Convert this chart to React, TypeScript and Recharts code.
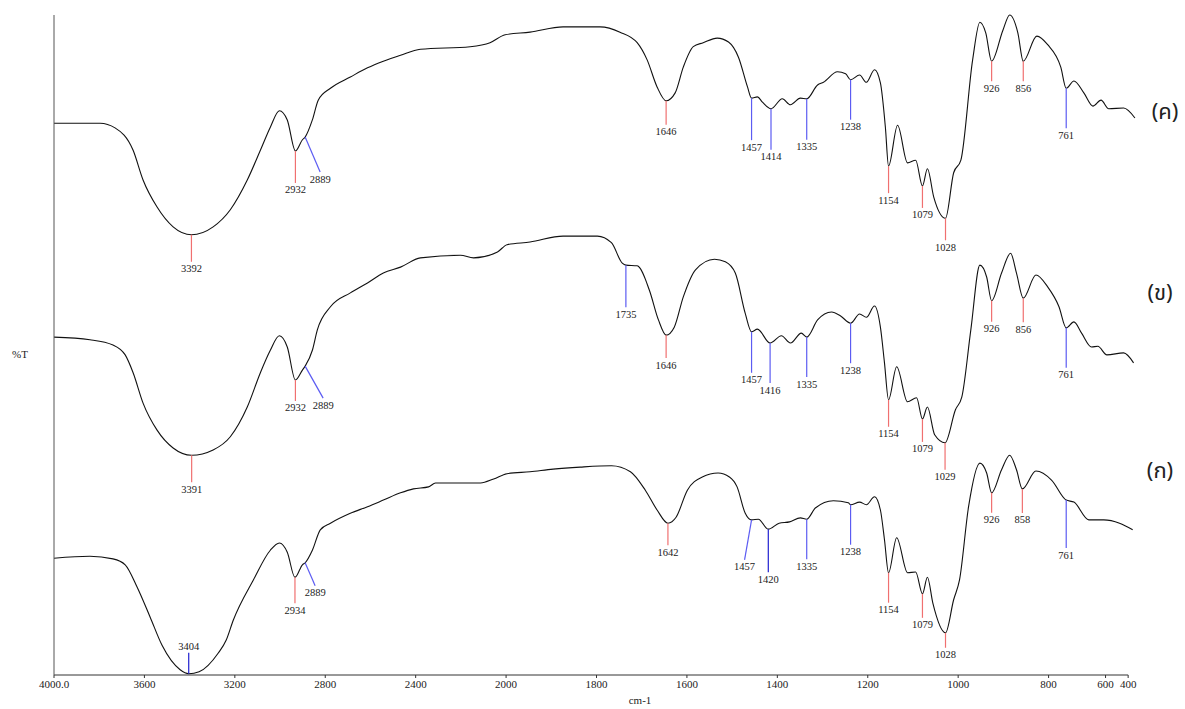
import React from 'react';
import { ComposedChart, Line, Scatter, XAxis, YAxis, ReferenceLine } from 'recharts';

// spectrum (ค) – top trace: wavenumber (cm-1) and %T
const WN_C = [4000, 3796, 3730, 3650, 3606, 3544, 3473, 3392, 3296, 3220, 3145, 3087, 3043, 3003, 2968, 2932, 2901, 2889, 2857, 2831, 2777, 2689, 2613, 2543, 2467, 2379, 2159, 2071, 2004, 1947, 1874, 1792, 1748, 1710, 1688, 1666, 1646, 1626, 1608, 1586, 1564, 1533, 1508, 1486, 1466, 1457, 1444, 1433, 1414, 1389, 1371, 1349, 1335, 1311, 1298, 1267, 1249, 1238, 1218, 1203, 1185, 1172, 1161, 1154, 1134, 1112, 1094, 1079, 1068, 1054, 1028, 1010, 994, 968, 952, 939, 926, 901, 886, 868, 856, 826, 802, 773, 761, 744, 722, 702, 684, 667, 634, 609];
const T_C = [83.6, 83.6, 82.9, 79.5, 75.0, 70.9, 67.9, 66.7, 67.9, 70.5, 75.0, 79.5, 83.0, 85.5, 84.1, 79.4, 81.1, 81.5, 84.1, 87.1, 88.9, 90.6, 92.0, 93.0, 93.9, 94.8, 95.2, 95.8, 97.0, 97.4, 98.2, 98.2, 97.4, 95.8, 93.2, 89.1, 87.0, 88.2, 92.1, 95.2, 95.8, 96.5, 95.9, 93.6, 89.1, 87.4, 87.6, 86.8, 85.8, 87.3, 86.4, 87.4, 87.3, 89.4, 89.8, 91.4, 91.1, 90.2, 90.9, 89.8, 91.7, 89.7, 83.0, 77.1, 83.3, 77.6, 78.0, 74.1, 76.7, 72.4, 69.2, 76.1, 78.0, 93.2, 98.9, 97.3, 93.0, 97.7, 100.0, 97.3, 93.0, 96.8, 95.5, 92.1, 88.9, 90.0, 88.2, 86.2, 87.1, 85.8, 85.9, 84.4];

// spectrum (ข) – middle trace
const WN_B = [4000, 3841, 3739, 3685, 3650, 3606, 3544, 3473, 3391, 3296, 3220, 3145, 3087, 3043, 3003, 2968, 2932, 2901, 2889, 2857, 2835, 2777, 2689, 2613, 2543, 2467, 2379, 2202, 2144, 2038, 1998, 1947, 1874, 1798, 1767, 1743, 1735, 1710, 1683, 1663, 1646, 1628, 1608, 1581, 1539, 1515, 1493, 1471, 1457, 1444, 1416, 1391, 1371, 1347, 1335, 1311, 1280, 1260, 1238, 1218, 1203, 1185, 1172, 1163, 1154, 1136, 1112, 1092, 1079, 1068, 1052, 1029, 1006, 992, 972, 952, 937, 926, 904, 884, 871, 856, 828, 802, 777, 761, 744, 727, 705, 691, 671, 634, 612];
const T_B = [51.2, 50.8, 50.0, 48.5, 45.8, 41.2, 37.1, 34.4, 33.3, 34.1, 36.1, 40.6, 45.8, 49.2, 51.4, 49.7, 44.7, 46.2, 46.8, 49.2, 52.3, 55.8, 57.9, 59.4, 60.9, 61.8, 63.2, 63.6, 63.2, 64.1, 65.2, 65.6, 66.5, 66.5, 65.5, 62.4, 62.1, 62.0, 58.3, 53.8, 51.5, 52.7, 57.3, 61.4, 63.0, 62.6, 60.9, 54.8, 52.0, 52.4, 50.3, 51.4, 50.3, 51.8, 51.2, 53.8, 55.0, 54.4, 53.3, 54.7, 54.2, 55.9, 52.7, 47.3, 41.7, 46.7, 41.4, 42.0, 38.8, 40.6, 36.4, 35.2, 40.2, 42.1, 52.3, 62.1, 60.3, 56.7, 60.9, 63.9, 60.9, 57.1, 60.6, 58.8, 55.8, 52.6, 53.5, 51.8, 49.7, 49.8, 48.5, 48.8, 47.3];

// spectrum (ก) – bottom trace
const WN_A = [4000, 3841, 3739, 3685, 3632, 3575, 3522, 3442, 3404, 3358, 3274, 3238, 3207, 3118, 3043, 3003, 2968, 2934, 2901, 2889, 2857, 2822, 2777, 2689, 2613, 2543, 2467, 2410, 2343, 2312, 2113, 2055, 1998, 1947, 1896, 1836, 1767, 1725, 1692, 1666, 1642, 1624, 1599, 1566, 1531, 1506, 1489, 1471, 1457, 1442, 1420, 1396, 1373, 1349, 1335, 1316, 1276, 1243, 1238, 1218, 1203, 1185, 1172, 1163, 1154, 1136, 1112, 1094, 1079, 1068, 1056, 1028, 1010, 997, 977, 952, 937, 926, 904, 886, 871, 858, 828, 793, 761, 744, 711, 678, 643, 614];
const T_A = [17.7, 18.0, 17.6, 16.7, 13.3, 8.8, 4.5, 0.8, 0.2, 0.5, 3.3, 5.3, 8.3, 14.4, 18.9, 20.0, 18.6, 14.8, 16.7, 17.0, 18.9, 22.0, 23.0, 24.5, 25.5, 26.5, 27.6, 28.2, 28.5, 29.1, 29.1, 29.7, 30.5, 30.8, 31.2, 31.5, 31.7, 30.8, 28.0, 25.0, 23.0, 23.9, 28.0, 30.0, 30.6, 30.0, 28.5, 24.5, 23.5, 23.6, 22.1, 23.0, 23.2, 23.8, 23.6, 25.3, 26.4, 26.1, 25.8, 26.2, 25.8, 27.0, 25.0, 20.5, 15.5, 20.8, 15.5, 15.6, 12.3, 14.8, 10.9, 6.4, 11.4, 14.4, 25.5, 32.1, 30.6, 27.6, 31.1, 33.3, 31.1, 28.2, 30.9, 29.5, 26.5, 26.2, 23.5, 23.5, 23.0, 22.0];

// picked peaks per spectrum, with marker colour (r = red, b = blue, d = dark blue)
const PEAKS_C = [3392, 2932, 2889, 1646, 1457, 1414, 1335, 1238, 1154, 1079, 1028, 926, 856, 761];
const KIND_C = ['r', 'r', 'b', 'r', 'b', 'b', 'b', 'b', 'r', 'r', 'r', 'r', 'r', 'b'];
const PEAKS_B = [3391, 2932, 2889, 1735, 1646, 1457, 1416, 1335, 1238, 1154, 1079, 1029, 926, 856, 761];
const KIND_B = ['r', 'r', 'b', 'b', 'r', 'b', 'b', 'b', 'b', 'r', 'r', 'r', 'r', 'r', 'b'];
const PEAKS_A = [3404, 2934, 2889, 1642, 1457, 1420, 1335, 1238, 1154, 1079, 1028, 926, 858, 761];
const KIND_A = ['d', 'r', 'b', 'r', 'b', 'd', 'b', 'b', 'r', 'r', 'r', 'r', 'r', 'b'];

const X_TICK_LABELS = ['4000.0', '3600', '3200', '2800', '2400', '2000', '1800', '1600', '1400', '1200', '1000', '800', '600', '400'];
const Y_TICKS = [4, 12, 20, 28, 36, 44, 52, 60, 68, 76, 84, 92, 100];

// marker drawing (pixel lengths of the drop lines, slant offsets)
const LEN_C = [27, 32, 35, 24, 42, 41, 41, 40, 27, 22, 22, 20, 20, 40];
const LEN_B = [27, 21, 32, 42, 23, 41, 40, 40, 40, 27, 23, 27, 21, 24, 40];
const LEN_A = [-21, 26, 23, 22, 40, 43, 40, 40, 30, 24, 15, 20, 24, 48];
const SLANT_C: Record<number, number> = { 2889: 15 };
const SLANT_B: Record<number, number> = { 2889: 18 };
const SLANT_A: Record<number, number> = { 2889: 10, 1457: -7 };
const KIND_COLOR: Record<string, string> = { r: '#f07070', b: '#5c5cf2', d: '#2020d0' };

// instrument axis: 400 cm-1 per division above 2000, 200 cm-1 below
const toAxis = (w: number) => (w >= 2000 ? (4000 - w) / 400 : 5 + (2000 - w) / 200);
// the last two tick labels are squeezed at the end of the axis on the original
const X_TICK_POS = [0, 1, 2, 3, 4, 5, 6, 7, 8, 9, 10, 11, 11.63, 11.88];

const series = (wn: number[], t: number[]) => wn.map((w, i) => ({ u: toAxis(w), v: t[i] }));

const valueAt = (wn: number[], t: number[], w: number) => {
  for (let i = 0; i < wn.length - 1; i++) {
    if (wn[i] >= w && wn[i + 1] <= w) {
      const f = (wn[i] - w) / (wn[i] - wn[i + 1]);
      return t[i] + f * (t[i + 1] - t[i]);
    }
  }
  return t[t.length - 1];
};

const peaks = (wn: number[], t: number[], list: number[], kind: string[], len: number[], slant: Record<number, number>) =>
  list.map((w, i) => ({
    u: toAxis(w),
    v: valueAt(wn, t, w),
    label: String(w),
    color: KIND_COLOR[kind[i]],
    len: len[i],
    dx: slant[w] ?? 0,
  }));

const PeakMark = (props: any) => {
  const { cx, cy, payload } = props;
  if (cx == null || cy == null || !payload) return null;
  const x2 = cx + payload.dx;
  const y2 = cy + payload.len;
  const ty = payload.len > 0 ? y2 + 10.5 : y2 - 3;
  return (
    <g>
      <line x1={cx} y1={cy} x2={x2} y2={y2} stroke={payload.color} strokeWidth={1.2} />
      <text x={x2} y={ty} textAnchor="middle" fontSize={10.5} fill="#222" fontFamily="'Liberation Serif', serif">
        {payload.label}
      </text>
    </g>
  );
};

const SPECTRA = [
  { name: 'C', data: series(WN_C, T_C), marks: peaks(WN_C, T_C, PEAKS_C, KIND_C, LEN_C, SLANT_C) },
  { name: 'B', data: series(WN_B, T_B), marks: peaks(WN_B, T_B, PEAKS_B, KIND_B, LEN_B, SLANT_B) },
  { name: 'A', data: series(WN_A, T_A), marks: peaks(WN_A, T_A, PEAKS_A, KIND_A, LEN_A, SLANT_A) },
];

const thai: React.CSSProperties = {
  position: 'absolute',
  transform: 'translate(-50%, -50%)',
  fontSize: 22,
  fontFamily: "'Noto Sans Thai', Tahoma, 'Noto Sans', sans-serif",
  color: '#222',
  whiteSpace: 'nowrap',
};

const App: React.FC = () => {
  return (
    <div
      style={{
        position: 'absolute',
        left: 0,
        top: 0,
        width: 1185,
        height: 709,
        overflow: 'hidden',
        background: '#fff',
        fontFamily: "'Liberation Serif', serif",
      }}
    >
      <ComposedChart width={1185} height={709} margin={{ top: 15, right: 46, bottom: 0, left: 0 }}>
        <XAxis
          dataKey="u"
          type="number"
          domain={[0, 12]}
          ticks={X_TICK_POS}
          interval={0}
          tickFormatter={(_v: number, i: number) => X_TICK_LABELS[i]}
          axisLine={false}
          tickLine={{ stroke: '#333' }}
          tickSize={3}
          height={34}
          tick={{ fontSize: 11, fill: '#222', fontFamily: "'Liberation Serif', serif" }}
        />
        <YAxis
          type="number"
          domain={[0, 100]}
          ticks={Y_TICKS}
          tick={false}
          tickSize={4}
          width={54}
          axisLine={{ stroke: '#555' }}
          tickLine={{ stroke: '#555' }}
        />
        <ReferenceLine
          segment={[{ x: 0, y: 0 }, { x: 11.88, y: 0 }]}
          stroke="#333"
          strokeWidth={1}
          ifOverflow="visible"
        />
        {SPECTRA.map((s) => (
          <Line
            key={`line-${s.name}`}
            data={s.data}
            dataKey="v"
            type="monotone"
            stroke="#111"
            strokeWidth={1.1}
            dot={false}
            activeDot={false}
            isAnimationActive={false}
          />
        ))}
        {SPECTRA.map((s) => (
          <Scatter
            key={`marks-${s.name}`}
            data={s.marks}
            dataKey="v"
            shape={(p: any) => <PeakMark {...p} />}
            isAnimationActive={false}
          />
        ))}
      </ComposedChart>

      <div style={{ position: 'absolute', left: 20, top: 354, transform: 'translate(-50%, -50%)', fontSize: 11, color: '#222' }}>%T</div>
      <div style={{ position: 'absolute', left: 640, top: 694, transform: 'translateX(-50%)', fontSize: 11, lineHeight: '13px', color: '#222' }}>cm-1</div>
      <div style={{ ...thai, left: 1165, top: 112 }}>(ค)</div>
      <div style={{ ...thai, left: 1160, top: 293 }}>(ข)</div>
      <div style={{ ...thai, left: 1160, top: 471 }}>(ก)</div>
    </div>
  );
};

export default App;
